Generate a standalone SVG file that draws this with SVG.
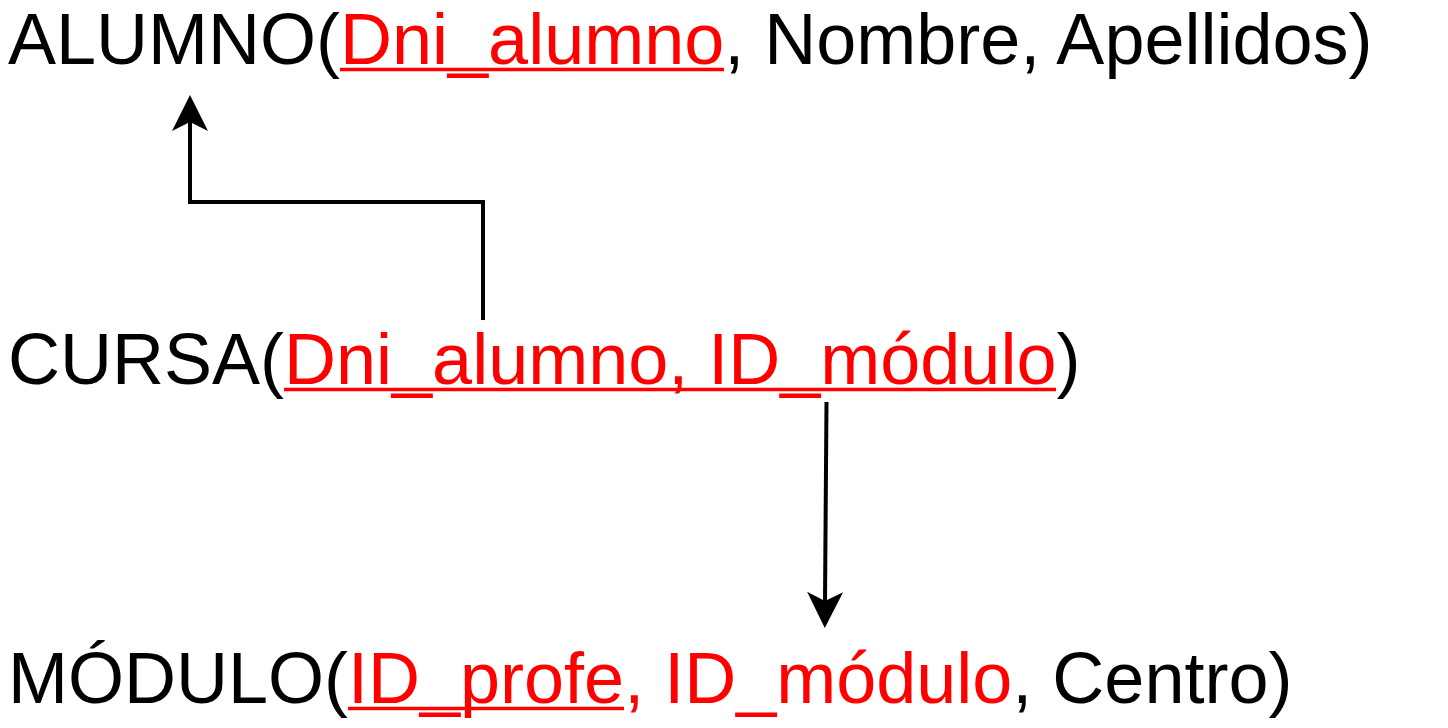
<svg xmlns="http://www.w3.org/2000/svg" width="1448" height="728" viewBox="0 0 1448 728">
  <style>
    .t { font-family: "Liberation Sans", Arial, sans-serif; font-size: 72px; fill: #000000; }
    .k { fill: #FF0000; }
    .ul { stroke: #FF0000; stroke-width: 3.5; fill: none; }
    .edge { fill: none; stroke: #000000; stroke-width: 4; }
  </style>
  <defs>
    <marker id="arrow" markerUnits="userSpaceOnUse" viewBox="-10 -19 38 38" markerWidth="38" markerHeight="38" refX="0" refY="0" orient="auto" overflow="visible">
      <path d="M27,0 L-9,-18 L0,0 L-9,18 Z" fill="#000000"/>
    </marker>
  </defs>
  <rect width="1448" height="728" fill="#FFFFFF"/>
  <g id="alumno">
    <text class="t" x="8" y="64">ALUMNO(<tspan class="k">Dni_alumno</tspan>, Nombre, Apellidos)</text>
    <line class="ul" x1="340" y1="69.5" x2="724" y2="69.5"/>
  </g>
  <g id="cursa">
    <text class="t" x="8" y="384">CURSA(<tspan class="k">Dni_alumno, ID_módulo</tspan>)</text>
    <line class="ul" x1="284" y1="389.5" x2="1056" y2="389.5"/>
  </g>
  <g id="modulo">
    <text class="t" x="8" y="703">MÓDULO(<tspan class="k">ID_profe, ID_módulo</tspan>, Centro)</text>
    <line class="ul" x1="348" y1="708.5" x2="624" y2="708.5"/>
  </g>
  <g id="connectors">
    <path class="edge" d="M483,320 L483,202 L190,202 L190,122" marker-end="url(#arrow)"/>
    <path class="edge" d="M826.5,402 L825,601" marker-end="url(#arrow)"/>
  </g>
</svg>
